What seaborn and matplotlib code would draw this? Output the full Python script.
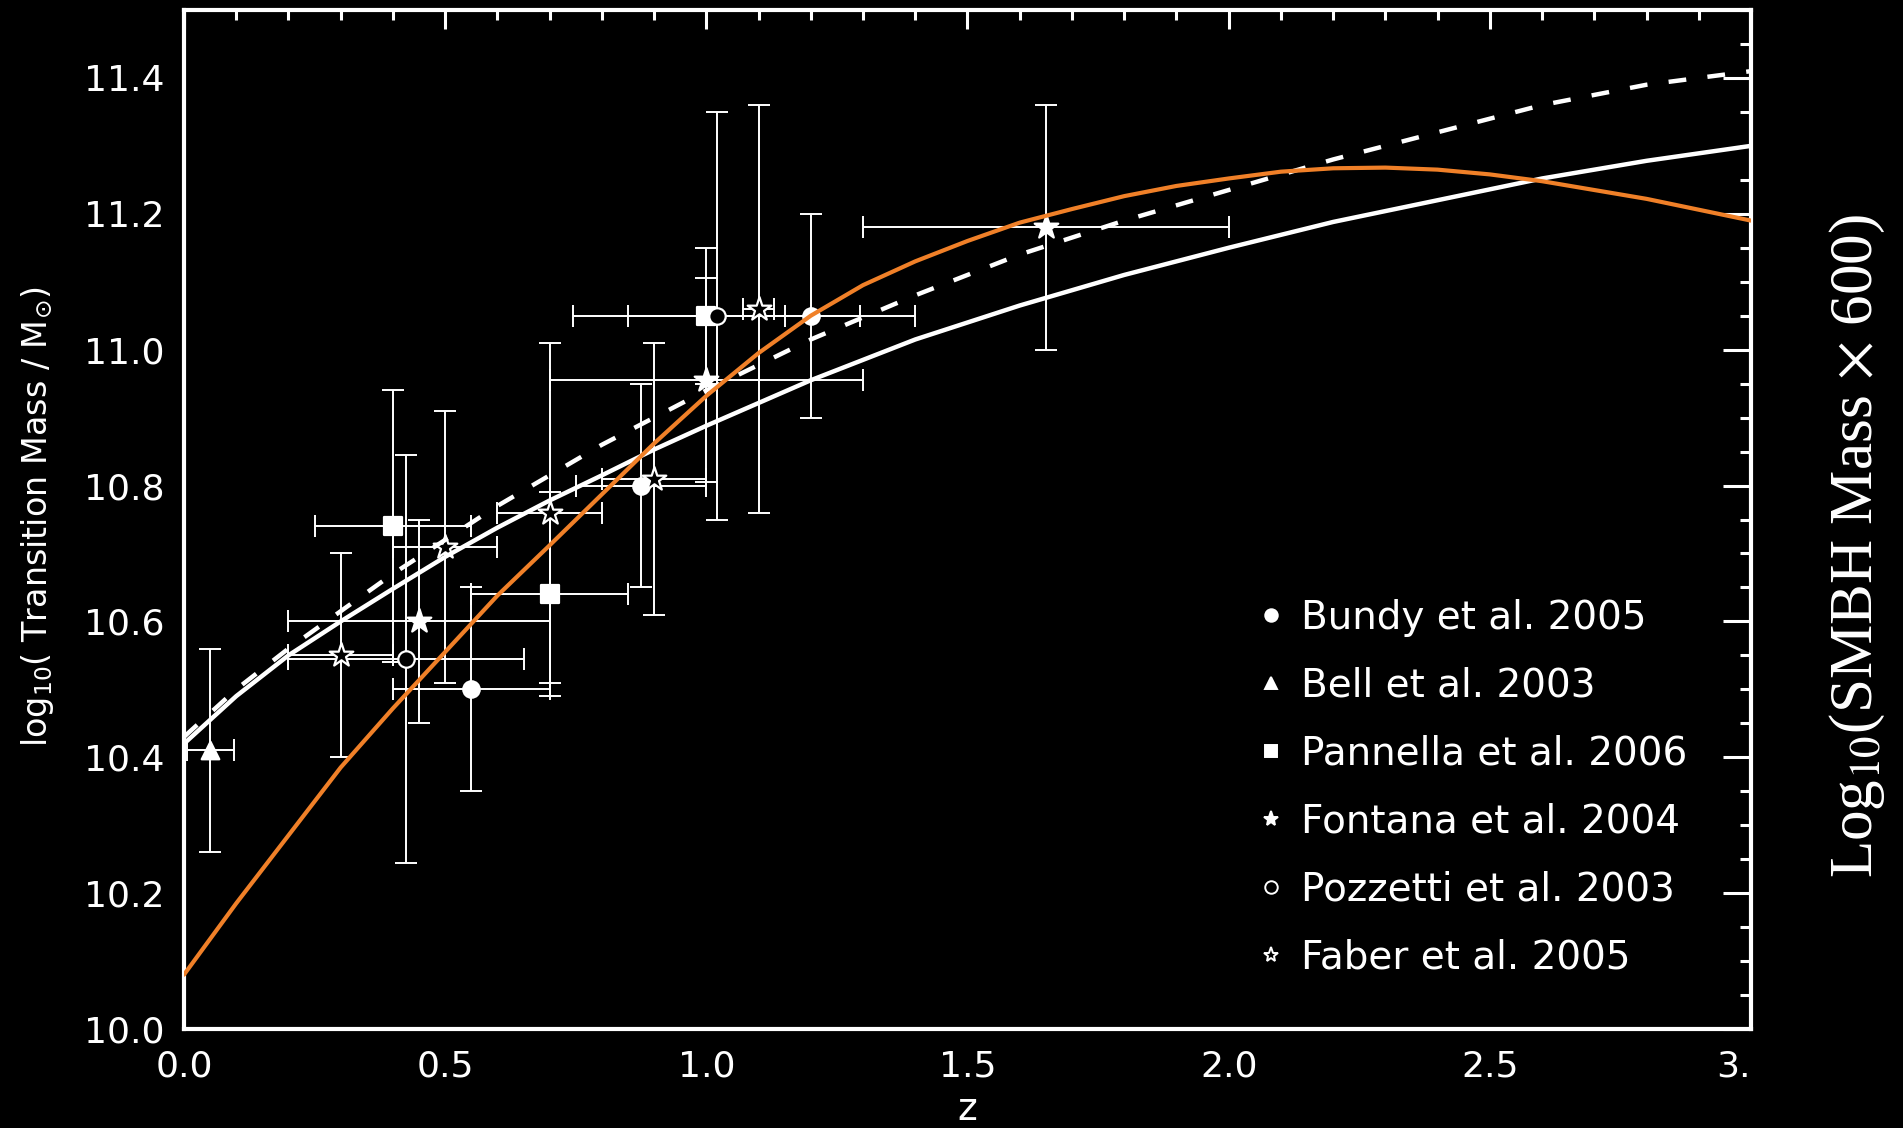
import matplotlib
matplotlib.use("Agg")
import matplotlib.pyplot as plt
from matplotlib.lines import Line2D
from matplotlib.ticker import MultipleLocator, FormatStrFormatter
import seaborn as sns
import pandas as pd

# ---------------- model curves ----------------
z_solid = [0.0, 0.1, 0.2, 0.3, 0.4, 0.5, 0.6, 0.7, 0.8, 0.9, 1.0, 1.2, 1.4, 1.6,
           1.8, 2.0, 2.2, 2.4, 2.6, 2.8, 3.0]
m_solid = [10.42, 10.49, 10.55, 10.60, 10.648, 10.695, 10.738, 10.778, 10.815,
           10.853, 10.888, 10.955, 11.015, 11.065, 11.11, 11.15, 11.188, 11.22,
           11.252, 11.278, 11.30]

z_dash = [0.0, 0.1, 0.2, 0.3, 0.4, 0.5, 0.6, 0.7, 0.8, 0.9, 1.0, 1.2, 1.4, 1.6,
          1.8, 2.0, 2.2, 2.4, 2.6, 2.8, 3.0]
m_dash = [10.43, 10.50, 10.56, 10.615, 10.67, 10.72, 10.77, 10.815, 10.86, 10.90,
          10.94, 11.015, 11.08, 11.14, 11.19, 11.235, 11.28, 11.32, 11.36, 11.39,
          11.41]

z_orange = [0.0, 0.1, 0.2, 0.3, 0.4, 0.5, 0.6, 0.7, 0.8, 0.9, 1.0, 1.1, 1.2, 1.3,
            1.4, 1.5, 1.6, 1.7, 1.8, 1.9, 2.0, 2.1, 2.2, 2.3, 2.4, 2.5, 2.6, 2.7,
            2.8, 2.9, 3.0]
m_orange = [10.08, 10.185, 10.285, 10.385, 10.472, 10.555, 10.638, 10.712, 10.787,
            10.862, 10.932, 10.995, 11.05, 11.095, 11.13, 11.16, 11.187, 11.207,
            11.226, 11.241, 11.252, 11.262, 11.267, 11.268, 11.265, 11.258, 11.248,
            11.235, 11.222, 11.206, 11.19]

# ---------------- observational points ----------------
bundy_z = [0.55, 0.875, 1.20]
bundy_m = [10.50, 10.80, 11.05]
bundy_zerr = [0.15, 0.125, 0.20]
bundy_merr = [0.15, 0.15, 0.15]

bell_z = [0.05]
bell_m = [10.41]
bell_zerr = [0.045]
bell_merr = [0.15]

pannella_z = [0.40, 0.70, 1.00]
pannella_m = [10.74, 10.64, 11.05]
pannella_zerr = [0.15, 0.15, 0.15]
pannella_merr = [0.20, 0.15, 0.10]

fontana_z = [0.45, 1.00, 1.65]
fontana_m = [10.60, 10.955, 11.18]
fontana_zerr = [0.25, 0.30, 0.35]
fontana_merr = [0.15, 0.15, 0.18]

pozzetti_z = [0.425, 1.02]
pozzetti_m = [10.545, 11.05]
pozzetti_zerr = [0.225, 0.275]
pozzetti_merr = [0.30, 0.30]

faber_z = [0.30, 0.50, 0.70, 0.90, 1.10]
faber_m = [10.55, 10.71, 10.76, 10.81, 11.06]
faber_zerr = [0.10, 0.10, 0.10, 0.10, 0.03]
faber_merr = [0.15, 0.20, 0.25, 0.20, 0.30]

legend_labels = ["Bundy et al. 2005", "Bell et al. 2003", "Pannella et al. 2006",
                 "Fontana et al. 2004", "Pozzetti et al. 2003", "Faber et al. 2005"]

xtick_values = [0.0, 0.5, 1.0, 1.5, 2.0, 2.5, 3.0]
xtick_labels = ["0.0", "0.5", "1.0", "1.5", "2.0", "2.5", "3."]

x_label = "z"
y_label = r"log$_{10}$( Transition Mass / M$_{\odot}$)"
right_label = r"Log$_{10}$(SMBH Mass $\times$ 600)"

# ---------------- styling ----------------
sns.set_theme(style="dark", rc={"axes.facecolor": "black", "figure.facecolor": "black",
                                "axes.grid": False})
plt.rcParams["font.family"] = ["DejaVu Sans"]

W, H = 1903, 1128
fig = plt.figure(figsize=(W / 100, H / 100), dpi=100, facecolor="black")
ax = fig.add_axes([184 / W, 1 - 1029 / H, (1751 - 184) / W, (1029 - 10) / H])
ax.set_facecolor("black")

datasets = [
    (bundy_z, bundy_m, bundy_zerr, bundy_merr, "o", "white", 140),
    (bell_z, bell_m, bell_zerr, bell_merr, "^", "white", 160),
    (pannella_z, pannella_m, pannella_zerr, pannella_merr, "s", "white", 160),
    (fontana_z, fontana_m, fontana_zerr, fontana_merr, "*", "white", 320),
    (pozzetti_z, pozzetti_m, pozzetti_zerr, pozzetti_merr, "o", "black", 140),
    (faber_z, faber_m, faber_zerr, faber_merr, "*", "black", 320),
]

for zs, ms, ze, me, mk, fc, sz in datasets:
    ax.errorbar(zs, ms, xerr=ze, yerr=me, fmt="none", ecolor="white",
                elinewidth=1.4, capsize=8, capthick=1.4, zorder=2)
    df = pd.DataFrame({"z": zs, "m": ms})
    sns.scatterplot(data=df, x="z", y="m", marker=mk, s=sz, color=fc,
                    edgecolor="white", linewidth=1.6, ax=ax, zorder=3, legend=False)

curve_solid = pd.DataFrame({"z": z_solid, "m": m_solid})
curve_dash = pd.DataFrame({"z": z_dash, "m": m_dash})
curve_orange = pd.DataFrame({"z": z_orange, "m": m_orange})

sns.lineplot(data=curve_solid, x="z", y="m", color="white", lw=3.2, ax=ax,
             estimator=None, sort=False, zorder=4)
sns.lineplot(data=curve_dash, x="z", y="m", color="white", lw=3.2, ax=ax,
             estimator=None, sort=False, zorder=4, linestyle=(0, (4, 4.8)))
sns.lineplot(data=curve_orange, x="z", y="m", color="#f08028", lw=3.0, ax=ax,
             estimator=None, sort=False, zorder=5)

ax.set_xlim(0.0, 3.0)
ax.set_ylim(10.0, 11.5)

ax.xaxis.set_major_locator(MultipleLocator(0.5))
ax.xaxis.set_minor_locator(MultipleLocator(0.1))
ax.yaxis.set_major_locator(MultipleLocator(0.2))
ax.yaxis.set_minor_locator(MultipleLocator(0.05))
ax.yaxis.set_major_formatter(FormatStrFormatter("%.1f"))
ax.set_xticks(xtick_values, labels=xtick_labels)
ax.get_xticklabels()[-1].set_horizontalalignment("right")

ax.tick_params(which="both", direction="in", top=True, right=True,
               colors="white", width=2.2)
ax.tick_params(axis="x", which="major", length=14, pad=15, labelsize=26)
ax.tick_params(axis="x", which="minor", length=7)
ax.tick_params(axis="y", which="major", length=20, pad=14, labelsize=26)
ax.tick_params(axis="y", which="minor", length=8)

for sp in ax.spines.values():
    sp.set_color("white")
    sp.set_linewidth(3)

ax.set_ylabel(y_label, color="white", fontsize=24, math_fontfamily="dejavusans")
ax.yaxis.set_label_coords(-0.082, 0.503)
ax.set_xlabel(x_label, color="white", fontsize=27)
ax.xaxis.set_label_coords(0.5, -0.062)

# legend
handles = []
for zs, ms, ze, me, mk, fc, sz in datasets:
    handles.append(Line2D([], [], marker=mk, linestyle="none",
                          markersize=(11 if mk == "*" else 9),
                          markerfacecolor=fc, markeredgecolor="white",
                          markeredgewidth=1.4))
leg = ax.legend(handles, legend_labels, loc="upper left",
                bbox_to_anchor=(0.681, 0.422), frameon=False, fontsize=28,
                labelcolor="white", handlelength=1.0, handletextpad=0.27,
                labelspacing=0.77, borderpad=0, borderaxespad=0)

fig.text(1857 / W, 1 - 546 / H, right_label, rotation=90, ha="center", va="center",
         color="white", fontsize=44, family="Liberation Serif",
         math_fontfamily="stix")

fig.savefig("out.png", dpi=100, facecolor="black")
